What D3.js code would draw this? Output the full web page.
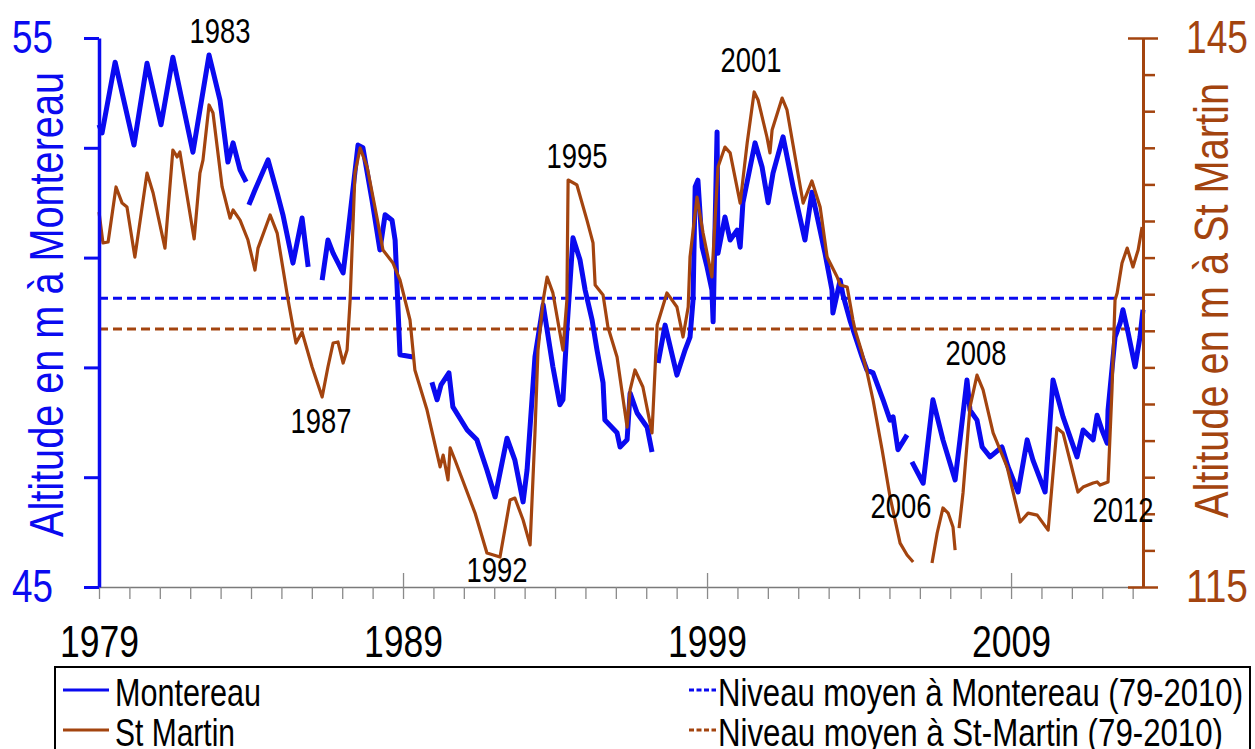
<!DOCTYPE html>
<html><head><meta charset="utf-8">
<script src="https://cdn.jsdelivr.net/npm/d3@7"></script>
<style>
body{margin:0;background:#fff;}
svg{display:block;}
text{font-family:'Liberation Sans Narrow','Arial Narrow','Liberation Sans',Arial,sans-serif;}
</style>
</head><body>
<svg id="c" width="1255" height="749"></svg>
<script>
// ---------- DATA ----------
// Montereau (left axis, m). null = gap in record
const montereauYear = [
1979.00,1979.10,1979.53,1980.15,1980.58,1981.04,1981.43,1982.09,1982.62,1982.98,1983.24,1983.41,1983.64,1983.84,1983.88,
1983.93,1984.13,1984.56,1984.86,1985.05,1985.38,1985.68,1985.88,1986.10,
1986.34,1986.53,1986.70,1987.03,1987.19,1987.52,1987.68,1987.98,1988.24,1988.41,1988.64,1988.74,1988.90,1989.33,1989.60,
1989.95,1990.12,1990.25,1990.51,1990.64,1991.11,1991.43,1991.76,1992.03,1992.42,1992.68,1992.95,1993.08,1993.34,1993.61,1993.93,1994.16,1994.26,1994.39,1994.59,1994.82,1994.99,1995.22,1995.38,1995.58,1995.64,1996.04,1996.14,1996.37,1996.47,1996.70,1997.03,1997.19,1997.29,
1997.39,1997.62,1998.01,1998.28,1998.44,1998.54,1998.61,1998.70,1998.84,1999.00,1999.16,1999.20,1999.26,1999.33,1999.36,1999.59,1999.76,1999.99,2000.09,2000.18,2000.58,2000.81,2001.01,2001.17,2001.50,2001.83,2002.22,2002.45,2002.88,2003.11,2003.14,2003.38,2003.47,2003.70,2004.10,2004.26,2004.46,2004.79,2005.02,2005.12,2005.28,2005.58,2005.66,
2005.74,2006.11,2006.43,2006.76,2007.16,2007.32,2007.55,2007.65,2007.88,2008.05,2008.31,2008.70,2008.90,2009.23,2009.53,2009.72,2010.12,2010.38,2010.71,2011.17,2011.37,2011.70,2011.83,2011.99,2012.16,2012.19,2012.42,2012.59,2012.68,2012.85,2013.08,2013.24,2013.34
];
const montereauLevel = [
53.42,53.27,54.56,53.05,54.54,53.42,54.65,52.92,54.69,53.87,52.74,53.09,52.60,52.38,null,
51.96,52.23,52.78,52.18,51.78,50.90,51.72,50.83,null,
50.59,51.32,51.08,50.72,51.45,53.05,53.00,52.05,51.14,51.78,51.68,51.32,49.23,49.19,null,
48.73,48.41,48.68,48.90,48.28,47.86,47.68,47.13,46.64,47.71,47.31,46.55,47.13,49.19,50.14,49.01,48.32,48.41,49.68,51.36,50.96,50.41,49.86,49.32,48.72,48.04,47.81,47.55,47.68,48.53,48.17,47.91,47.46,null,
49.08,49.77,48.86,49.32,49.55,50.23,52.29,52.41,51.19,50.83,50.41,49.83,51.45,53.29,51.08,51.74,51.32,51.50,51.19,52.00,53.09,52.65,52.00,52.54,53.20,52.29,51.32,52.19,51.08,50.41,49.99,50.59,50.32,49.86,49.19,48.95,48.90,48.41,48.04,48.10,47.50,47.77,null,
47.28,46.89,48.41,47.68,46.95,47.68,48.77,48.22,48.04,47.55,47.37,47.55,47.19,46.73,47.68,47.31,46.73,48.77,48.10,47.37,47.86,47.68,48.13,47.86,47.62,48.22,49.55,49.81,50.05,49.63,49.01,49.55,50.05
];
// St Martin (right axis, m)
const stMartinYear = [
1979.00,1979.13,1979.30,1979.56,1979.76,1979.92,1980.18,1980.58,1980.78,1981.17,1981.43,1981.57,1981.66,1982.13,1982.32,1982.42,1982.62,1982.75,1983.05,1983.31,1983.41,1983.64,1983.90,1984.13,1984.23,1984.63,1984.86,1985.22,1985.38,1985.48,1985.68,1986.01,1986.34,1986.53,1986.70,1986.86,1987.03,1987.16,1987.26,1987.42,1987.59,1987.82,1988.14,1988.34,1988.67,1988.90,1989.23,1989.39,1989.79,1990.22,1990.32,1990.48,1990.55,1990.71,1991.37,1991.76,1992.19,1992.52,1992.68,1992.95,1993.18,1993.34,1993.44,1993.61,1993.74,1993.93,1994.26,1994.39,1994.43,1994.72,1995.05,1995.25,1995.32,1995.58,1995.74,1996.04,1996.37,1996.47,1996.63,1996.89,1997.19,1997.36,1997.68,1998.01,1998.21,1998.38,1998.44,1998.67,1998.87,1999.16,1999.36,1999.59,1999.76,2000.09,2000.32,2000.55,2000.68,2000.97,2001.07,2001.14,2001.47,2001.63,2002.16,2002.45,2002.72,2002.95,2003.28,2003.38,2003.61,2003.80,2003.87,2004.10,2004.26,2004.46,2004.76,2005.02,2005.35,2005.58,2005.78,2006.10,
2006.40,2006.57,2006.76,2006.93,2007.09,2007.16,2007.22,
2007.29,2007.42,2007.65,2007.88,2008.08,2008.41,2008.87,2009.30,2009.56,2009.86,2010.22,2010.51,2010.71,2011.20,2011.37,2011.70,2011.83,2011.93,2012.19,2012.32,2012.42,2012.49,2012.65,2012.82,2013.01,2013.18,2013.31
];
const stMartinLevel = [
135.49,133.80,133.85,136.86,135.98,135.77,133.03,137.62,136.53,133.52,138.88,138.50,138.77,134.02,137.62,138.33,141.34,140.90,136.86,135.16,135.60,135.05,133.96,132.32,133.52,135.33,134.34,130.68,129.21,128.33,128.93,127.02,125.38,127.02,128.33,128.39,127.24,127.95,130.68,137.62,138.99,137.95,135.22,133.42,132.70,131.78,129.59,126.86,124.67,121.56,122.21,120.85,122.60,121.94,119.04,116.86,116.64,119.75,119.86,118.66,117.30,123.42,127.95,130.68,131.94,131.07,127.95,130.68,137.24,136.97,135.05,133.80,131.50,130.96,129.21,127.57,123.74,125.77,126.86,125.93,123.42,129.32,131.07,130.30,128.66,130.30,133.03,136.31,134.34,131.94,137.95,139.04,138.72,135.98,139.26,142.05,141.61,139.59,138.72,139.97,141.72,141.07,135.98,137.19,135.77,133.03,131.94,131.50,131.39,129.59,129.04,127.79,126.75,125.22,122.49,119.92,117.40,116.75,116.37,null,
116.31,117.95,119.32,119.04,118.28,117.02,null,
118.22,120.14,124.84,126.58,125.77,123.42,121.56,118.55,119.04,118.93,118.11,123.69,123.42,120.19,120.46,120.68,120.74,120.57,120.74,125.77,130.68,131.07,132.70,133.52,132.49,133.42,134.67
];
const meanMontereau = 50.26;   // Niveau moyen à Montereau (79-2010)
const meanStMartin = 129.10;   // Niveau moyen à St-Martin (79-2010)

const yearTicks = d3.range(1979, 2014);
const yearLabels = [1979, 1989, 1999, 2009];
const leftTicks = [45, 47, 49, 51, 53, 55];
const leftLabels = [45, 55];
const rightTicks = d3.range(115, 146, 2);
const rightLabels = [115, 145];
const annotLabel = ["1983","1987","1992","1995","2001","2006","2008","2012"];
const annotYear  = [1982.98,1986.30,1992.09,1994.72,2000.45,2005.38,2007.85,2012.68];
const annotLevel = [54.90,47.81,45.09,52.63,54.38,46.26,49.04,46.18];

// ---------- CHART ----------
const blue = "#0a0af0", brown = "#a3440f";
const svg = d3.select("#c");
const x = d3.scaleLinear().domain([1979, 2013.34]).range([99, 1143]);
const yL = d3.scaleLinear().domain([45, 55]).range([587, 38]);
const yR = d3.scaleLinear().domain([115, 145]).range([587, 38]);

function fit(sel, w){ sel.attr("textLength", w).attr("lengthAdjust","spacingAndGlyphs"); }

// mean lines
svg.append("line").attr("x1",x(1979)).attr("x2",x(2013.34)).attr("y1",yL(meanMontereau)).attr("y2",yL(meanMontereau))
  .attr("stroke",blue).attr("stroke-width",3).attr("stroke-dasharray","9,5");
svg.append("line").attr("x1",x(1979)).attr("x2",x(2013.34)).attr("y1",yR(meanStMartin)).attr("y2",yR(meanStMartin))
  .attr("stroke",brown).attr("stroke-width",3).attr("stroke-dasharray","9,5");

// series
const mData = montereauYear.map((t,i)=>({t, v: montereauLevel[i]}));
const sData = stMartinYear.map((t,i)=>({t, v: stMartinLevel[i]}));
svg.append("path").datum(mData)
  .attr("d", d3.line().defined(d=>d.v!==null).x(d=>x(d.t)).y(d=>yL(d.v)))
  .attr("fill","none").attr("stroke",blue).attr("stroke-width",5).attr("stroke-linejoin","round");
svg.append("path").datum(sData)
  .attr("d", d3.line().defined(d=>d.v!==null).x(d=>x(d.t)).y(d=>yR(d.v)))
  .attr("fill","none").attr("stroke",brown).attr("stroke-width",3.2).attr("stroke-linejoin","round");

// x axis
const gx = svg.append("g").attr("transform","translate(0,587)")
  .call(d3.axisBottom(x).tickValues(yearTicks).tickSize(12).tickSizeOuter(0).tickPadding(26)
    .tickFormat(d=>yearLabels.includes(d)?String(d):""));
gx.select(".domain").attr("stroke","#7a7a7a").attr("stroke-width",1.3);
gx.selectAll(".tick line").attr("stroke","#8a8a8a").attr("stroke-width",1.3)
  .attr("y1", d=>yearLabels.includes(d)?-14:0);
gx.selectAll(".tick text").attr("font-size",45).attr("fill","#000")
  .each(function(d){ if(yearLabels.includes(d)) fit(d3.select(this),79); });

// left axis
const gl = svg.append("g").attr("transform","translate(99,0)")
  .call(d3.axisLeft(yL).tickValues(leftTicks).tickSize(15).tickSizeOuter(0).tickPadding(31)
    .tickFormat(d=>leftLabels.includes(d)?String(d):""));
gl.select(".domain").attr("stroke",blue).attr("stroke-width",3.5);
gl.selectAll(".tick line").attr("stroke",blue).attr("stroke-width",3);
gl.selectAll(".tick text").attr("font-size",46).attr("fill",blue)
  .each(function(d){ if(leftLabels.includes(d)) fit(d3.select(this),41); });

// right axis
const gr = svg.append("g").attr("transform","translate(1143,0)")
  .call(d3.axisRight(yR).tickValues(rightTicks).tickSize(12).tickSizeOuter(0).tickPadding(31)
    .tickFormat(d=>rightLabels.includes(d)?String(d):""));
gr.select(".domain").attr("stroke",brown).attr("stroke-width",3);
gr.selectAll(".tick line").attr("stroke",brown).attr("stroke-width",2.5)
  .attr("x1", d=>rightLabels.includes(d)?-15:0)
  .attr("x2", d=>rightLabels.includes(d)?15:12);
gr.selectAll(".tick text").attr("font-size",46).attr("fill",brown)
  .each(function(d){ if(rightLabels.includes(d)) fit(d3.select(this),62); });

// axis titles
svg.append("text").attr("transform",`translate(63,537) rotate(-90)`)
  .attr("font-size",48).attr("fill",blue).text("Altitude en m à Montereau").call(fit,465);
svg.append("text").attr("transform",`translate(1228,518) rotate(-90)`)
  .attr("font-size",48).attr("fill",brown).text("Altitude en m à St Martin").call(fit,435);

// annotations
annotLabel.forEach((s,i)=>{
  svg.append("text").attr("x",x(annotYear[i])).attr("y",yL(annotLevel[i]))
    .attr("text-anchor","middle").attr("font-size",35).attr("fill","#000").text(s).call(fit,61);
});

// legend
const lg = svg.append("g");
lg.append("rect").attr("x",55).attr("y",667).attr("width",1195).attr("height",110)
  .attr("fill","none").attr("stroke","#000").attr("stroke-width",2);
const legendItems = [
  {label:"Montereau", color:blue, dash:null, x1:63, x2:109, tx:115, ty:706, ly:690, w:146},
  {label:"St Martin", color:brown, dash:null, x1:63, x2:109, tx:115, ty:746, ly:730, w:120},
  {label:"Niveau moyen à Montereau (79-2010)", color:blue, dash:"5,2.5", x1:689, x2:716, tx:718, ty:706, ly:690, w:525},
  {label:"Niveau moyen à St-Martin (79-2010)", color:brown, dash:"5,2.5", x1:689, x2:716, tx:718, ty:746, ly:730, w:505}
];
legendItems.forEach(it=>{
  lg.append("line").attr("x1",it.x1).attr("x2",it.x2).attr("y1",it.ly).attr("y2",it.ly)
    .attr("stroke",it.color).attr("stroke-width",3.2).attr("stroke-dasharray",it.dash);
  lg.append("text").attr("x",it.tx).attr("y",it.ty).attr("font-size",39).attr("fill","#000")
    .text(it.label).call(fit,it.w);
});
</script>
</body></html>
